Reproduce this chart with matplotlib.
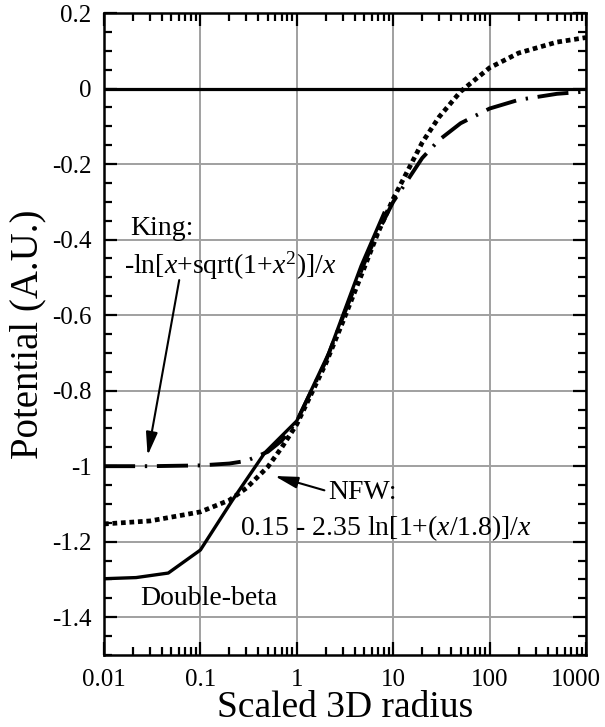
import numpy as np
import matplotlib
matplotlib.use('Agg')
import matplotlib.pyplot as plt
import matplotlib.transforms as mtransforms
from matplotlib.ticker import FixedLocator, FuncFormatter, LogLocator, NullFormatter

plt.rcParams['font.family'] = ['Liberation Serif', 'DejaVu Serif']
plt.rcParams['mathtext.fontset'] = 'custom'
plt.rcParams['mathtext.rm'] = 'Liberation Serif'
plt.rcParams['mathtext.it'] = 'Liberation Serif:italic'
plt.rcParams['axes.unicode_minus'] = False

# NFW curve
nfw_x = [0.01, 0.03, 0.1, 0.2, 0.3, 0.5, 0.7, 1, 2, 3, 5, 7, 10, 20, 30, 50, 100, 200, 500, 1000]
nfw_y = [-1.153, -1.145, -1.121, -1.09, -1.058, -1.002, -0.95, -0.889, -0.728, -0.618, -0.475,
         -0.38, -0.292, -0.143, -0.075, -0.008, 0.055, 0.094, 0.123, 0.135]

# King curve
king_x = [0.01, 0.03, 0.1, 0.2, 0.3, 0.5, 0.7, 1, 2, 3, 5, 7, 10, 20, 30, 50, 100, 200, 500, 1000]
king_y = [-1.0, -1.0, -0.998, -0.993, -0.986, -0.962, -0.932, -0.881, -0.722, -0.606, -0.463,
          -0.378, -0.300, -0.184, -0.136, -0.092, -0.053, -0.030, -0.014, -0.008]

# Double-beta curve
dbeta_x = [0.01, 0.0215, 0.0464, 0.1, 0.215, 0.464, 1, 2.15, 4.64, 8]
dbeta_y = [-1.298, -1.295, -1.283, -1.222, -1.09, -0.965, -0.88, -0.70, -0.47, -0.33]

x_ticks = [0.01, 0.1, 1, 10, 100, 1000]
y_ticks = [-1.4, -1.2, -1.0, -0.8, -0.6, -0.4, -0.2, 0.0, 0.2]


def fmt(v, p):
    s = f"{v:g}"
    return "0" if s in ("-0", "0") else s


fig = plt.figure(figsize=(6.05, 7.27), dpi=100)
ax = fig.add_axes([104 / 605, 72 / 727, 482 / 605, 642 / 727])

ax.axhline(0, color='black', lw=2.3, zorder=3)
ax.plot(dbeta_x, dbeta_y, color='black', lw=2.4, zorder=4)
ax.plot(nfw_x, nfw_y, color='black', lw=3.4, linestyle=(0, (1.0, 0.8)), zorder=4)
ax.plot(king_x, king_y, color='black', lw=2.8, linestyle=(0, (8, 2.5, 0.6, 2.5)), zorder=4)

ax.set_xscale('log')
ax.set_xlim(0.01, 1000)
ax.set_ylim(-1.5, 0.2)

ax.xaxis.set_major_locator(FixedLocator(x_ticks))
ax.xaxis.set_major_formatter(FuncFormatter(fmt))
ax.xaxis.set_minor_locator(LogLocator(base=10, subs=np.arange(2, 10)))
ax.xaxis.set_minor_formatter(NullFormatter())
ax.yaxis.set_major_locator(FixedLocator(y_ticks))
ax.yaxis.set_major_formatter(FuncFormatter(fmt))
ax.yaxis.set_minor_locator(FixedLocator(np.round(np.arange(-1.5, 0.21, 0.05), 2)))

ax.grid(True, which='major', color='#a0a0a0', lw=1.4, zorder=0)
ax.tick_params(which='both', direction='in', top=True, right=True, width=1.6, labelsize=18)
ax.tick_params(which='major', length=9.5)
ax.tick_params(which='minor', length=5.5)
ax.tick_params(axis='x', pad=10)
ax.tick_params(axis='y', pad=9)
for s in ax.spines.values():
    s.set_linewidth(1.8)

ax.set_xlabel('Scaled 3D radius', fontsize=27, labelpad=0)
ax.set_ylabel('Potential (A.U.)', fontsize=28, labelpad=4)

fig.canvas.draw()
# last x tick label sits a little left so it stays inside the figure
last = ax.get_xticklabels()[-1]
last.set_transform(last.get_transform() + mtransforms.ScaledTranslation(-10 / 100, 0, fig.dpi_scale_trans))

ax.text(0.0185, -0.37, 'King:', fontsize=20, va='center', ha='left')
ax.text(0.016, -0.47, r'-ln[$x$+sqrt(1+$x^{2}$)]/$x$', fontsize=20, va='center', ha='left')
ax.annotate('', xy=(0.028, -0.979), xytext=(0.061, -0.50),
            arrowprops=dict(arrowstyle='-|>,head_length=1.4,head_width=0.35', color='black', lw=1.5))
ax.annotate('', xy=(0.553, -1.024), xytext=(2.06, -1.066),
            arrowprops=dict(arrowstyle='-|>,head_length=1.4,head_width=0.35', color='black', lw=1.5))
ax.text(2.1, -1.07, 'NFW:', fontsize=20, va='center', ha='left')
ax.text(0.26, -1.165, r'0.15 - 2.35 ln[1+($x$/1.8)]/$x$', fontsize=20, va='center', ha='left')
ax.text(0.024, -1.35, 'Double-beta', fontsize=20, va='center', ha='left')

fig.savefig('out.png', dpi=100)
